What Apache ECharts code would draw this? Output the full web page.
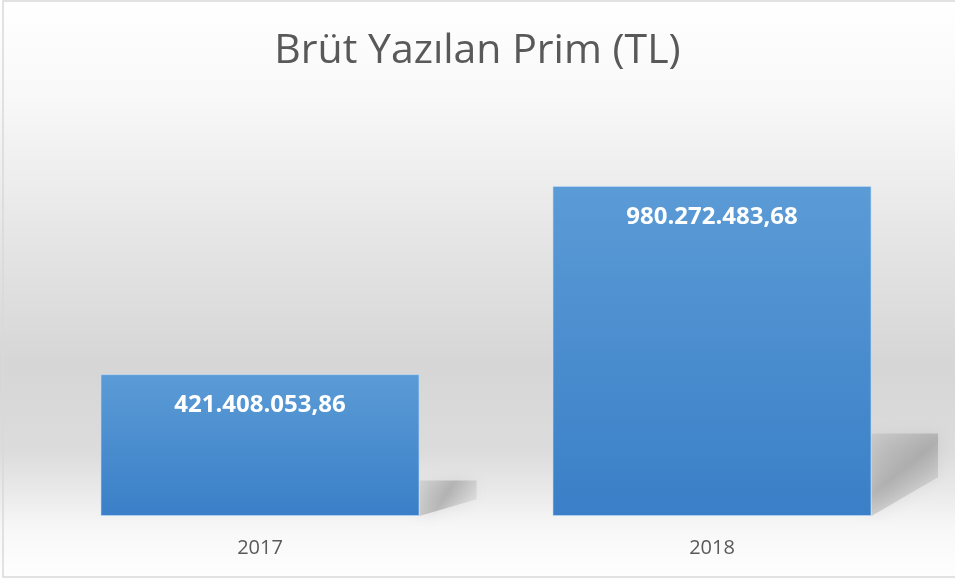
<!DOCTYPE html>
<html>
<head>
<meta charset="utf-8">
<title>Brüt Yazılan Prim</title>
<script src="https://cdn.jsdelivr.net/npm/echarts@6/dist/echarts.min.js"></script>
<style>
html, body { margin: 0; padding: 0; background: #fff; }
#chart { width: 955px; height: 579px; }
</style>
</head>
<body>
<div id="chart"></div>
<script>
// 数据
var categories = ['2017', '2018'];
var primValues = [421408053.86, 980272483.68];
var yMax = 1200000000;

var barWidth = 319;

// 土耳其格式: 421.408.053,86
function formatTR(v) {
    var parts = v.toFixed(2).split('.');
    var intPart = parts[0].replace(/\B(?=(\d{3})+(?!\d))/g, '.');
    return intPart + ',' + parts[1];
}

var myChart = echarts.init(document.getElementById('chart'));

// 柱子右侧的阴影
function renderShadow(params, api) {
    var top = api.coord([api.value(0), api.value(1)]);
    var base = api.coord([api.value(0), 0]);
    var h = base[1] - top[1];
    var x0 = base[0] + barWidth / 2;
    var sh = h * 0.25;
    var sw = 50 + h * 0.05;
    return {
        type: 'polygon',
        shape: {
            points: [
                [x0, base[1] - sh],
                [x0 + sw, base[1] - sh],
                [x0 + sw, base[1] - sh * 0.47],
                [x0, base[1]]
            ]
        },
        style: {
            fill: new echarts.graphic.LinearGradient(0, 0, 1, 1, [
                { offset: 0, color: 'rgba(160,160,160,0.25)' },
                { offset: 0.45, color: 'rgba(140,140,140,0.5)' },
                { offset: 1, color: 'rgba(180,180,180,0.12)' }
            ]),
            shadowBlur: 16,
            shadowColor: 'rgba(150,150,150,0.45)'
        }
    };
}

var option = {
    backgroundColor: new echarts.graphic.LinearGradient(0, 0, 0, 1, [
        { offset: 0, color: '#ffffff' },
        { offset: 0.17, color: '#f8f8f8' },
        { offset: 0.43, color: '#e4e4e4' },
        { offset: 0.63, color: '#d6d6d6' },
        { offset: 0.78, color: '#dcdcdc' },
        { offset: 0.86, color: '#ececec' },
        { offset: 0.915, color: '#f8f8f8' },
        { offset: 1, color: '#fefefe' }
    ]),
    textStyle: {
        fontFamily: '"Open Sans", "Noto Sans", sans-serif'
    },
    title: {
        text: 'Brüt Yazılan Prim (TL)',
        left: 'center',
        top: 26,
        textStyle: {
            fontSize: 41,
            fontWeight: 'normal',
            color: '#595959',
            fontFamily: '"Open Sans", "Noto Sans", sans-serif'
        }
    },
    graphic: [{
        type: 'rect',
        silent: true,
        z: 100,
        shape: { x: 3, y: 1, width: 960, height: 576 },
        style: { fill: 'none', stroke: '#d9d9d9', lineWidth: 1.5 }
    }],
    grid: {
        left: 34,
        right: 17,
        top: 112,
        bottom: 63
    },
    xAxis: {
        type: 'category',
        data: categories,
        axisLine: { show: false },
        axisTick: { show: false },
        axisLabel: {
            color: '#595959',
            fontSize: 20,
            margin: 22
        }
    },
    yAxis: {
        type: 'value',
        min: 0,
        max: yMax,
        show: false,
        splitLine: { show: false }
    },
    series: [{
        type: 'custom',
        renderItem: renderShadow,
        data: categories.map(function(c, i) { return [i, primValues[i]]; }),
        z: 1,
        silent: true
    }, {
        type: 'bar',
        data: primValues,
        barWidth: barWidth,
        z: 2,
        itemStyle: {
            color: new echarts.graphic.LinearGradient(0, 0, 0, 1, [
                { offset: 0, color: '#5b9bd6' },
                { offset: 1, color: '#3a7fc7' }
            ]),
            borderColor: 'rgba(190,220,250,0.6)',
            borderWidth: 1
        },
        label: {
            show: true,
            position: 'insideTop',
            distance: 19,
            color: '#ffffff',
            fontSize: 24,
            fontWeight: 'bold',
            formatter: function(p) {
                return formatTR(p.value);
            }
        }
    }]
};

myChart.setOption(option);
</script>
</body>
</html>
